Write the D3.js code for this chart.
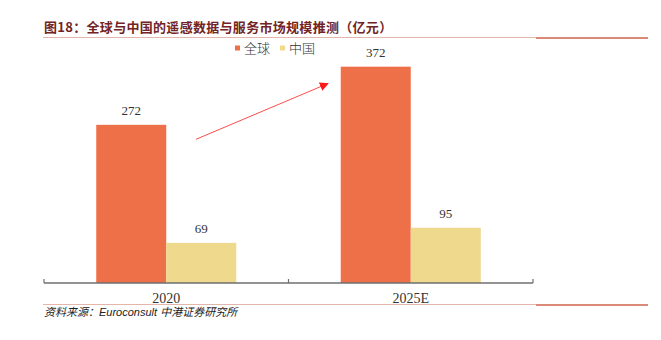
<!DOCTYPE html>
<html>
<head>
<meta charset="utf-8">
<script src="https://cdn.jsdelivr.net/npm/d3@7/dist/d3.min.js"></script>
<style>
  html, body { margin: 0; padding: 0; background: #fff; }
  svg { display: block; }
</style>
</head>
<body>
<svg id="chart" width="661" height="340"></svg>
<script>
// 全球与中国的遥感数据与服务市场规模（亿元）
const categories = ["2020", "2025E"];
const seriesNames = ["全球", "中国"];
const globalValues = [272, 372];
const chinaValues = [69, 95];
const titleText = "图18：全球与中国的遥感数据与服务市场规模推测（亿元）";
const sourceText = "资料来源：Euroconsult 中港证券研究所";

const colors = { "全球": "#ee7049", "中国": "#efd98d" };
const valuesBySeries = { "全球": globalValues, "中国": chinaValues };

const svg = d3.select("#chart");

// plot frame
const plot = { left: 44, right: 533, top: 50.4, bottom: 283 };

const x = d3.scaleBand().domain(categories).range([plot.left, plot.right]);
const xInner = d3.scaleBand().domain(seriesNames)
  .range([0, x.bandwidth()]).paddingInner(0).paddingOuter(0.746);
const y = d3.scaleLinear().domain([0, 400]).range([plot.bottom, plot.top]);

// title
svg.append("text")
  .attr("x", 44).attr("y", 32)
  .attr("font-family", "'Noto Sans CJK SC', sans-serif")
  .attr("font-size", 13).attr("font-weight", "bold")
  .attr("letter-spacing", 0.3)
  .attr("fill", "#722424")
  .text(titleText);

// header and footer rules
function rule(yPos) {
  svg.append("line").attr("x1", 43).attr("x2", 536).attr("y1", yPos).attr("y2", yPos)
    .attr("stroke", "#e3b6ab").attr("stroke-width", 1);
  svg.append("line").attr("x1", 536).attr("x2", 648).attr("y1", yPos + 0.5).attr("y2", yPos + 0.5)
    .attr("stroke", "#dc8a78").attr("stroke-width", 2);
}
rule(37.5);
rule(304.5);

// legend
const legend = svg.append("g").attr("transform", "translate(235,48)");
const legendPos = [0, 45];
seriesNames.forEach((name, i) => {
  const g = legend.append("g").attr("transform", `translate(${legendPos[i]},0)`);
  g.append("rect").attr("x", 0).attr("y", -2.5).attr("width", 5).attr("height", 5)
    .attr("fill", colors[name]);
  g.append("text").attr("x", 9).attr("y", 5)
    .attr("font-family", "'Noto Sans CJK SC', sans-serif")
    .attr("font-size", 13).attr("font-weight", 300)
    .attr("fill", "#333").text(name);
});

// bars
const groups = svg.append("g").selectAll("g")
  .data(categories).join("g")
  .attr("transform", d => `translate(${x(d)},0)`);

groups.each(function (cat, ci) {
  const g = d3.select(this);
  seriesNames.forEach(name => {
    const v = valuesBySeries[name][ci];
    g.append("rect")
      .attr("x", xInner(name))
      .attr("y", y(v))
      .attr("width", xInner.bandwidth())
      .attr("height", y(0) - y(v))
      .attr("fill", colors[name]);
    g.append("text")
      .attr("x", xInner(name) + xInner.bandwidth() / 2)
      .attr("y", y(v) - 10)
      .attr("text-anchor", "middle")
      .attr("font-family", "'Liberation Serif', serif")
      .attr("font-size", 13)
      .attr("fill", "#333")
      .text(v);
  });
});

// x axis with inward ticks at band edges
const axisG = svg.append("g").attr("transform", `translate(0,${plot.bottom})`);
axisG.append("line").attr("x1", plot.left).attr("x2", plot.right)
  .attr("stroke", "#6f6f6f").attr("stroke-width", 1.5);
const edges = categories.map(c => x(c)).concat([x.range()[1]]);
axisG.selectAll(".edge").data(edges).join("line")
  .attr("class", "edge")
  .attr("x1", d => d).attr("x2", d => d).attr("y1", 0).attr("y2", -4)
  .attr("stroke", "#6f6f6f").attr("stroke-width", 1.2);
axisG.selectAll(".cat").data(categories).join("text")
  .attr("class", "cat")
  .attr("x", d => x(d) + x.bandwidth() / 2)
  .attr("y", 19.5)
  .attr("text-anchor", "middle")
  .attr("font-family", "'Liberation Serif', serif")
  .attr("font-size", 14)
  .attr("fill", "#333")
  .text(d => d);

// growth arrow from 2020 toward 2025E
const defs = svg.append("defs");
defs.append("marker").attr("id", "arrowHead")
  .attr("viewBox", "0 0 10 10").attr("refX", 9).attr("refY", 5)
  .attr("markerWidth", 9).attr("markerHeight", 9)
  .attr("markerUnits", "userSpaceOnUse")
  .attr("orient", "auto")
  .append("path").attr("d", "M0,0 L10,5 L0,10 Z").attr("fill", "#ff1a1a");
svg.append("line")
  .attr("x1", 196).attr("y1", 139.3).attr("x2", 328).attr("y2", 83.5)
  .attr("stroke", "#ff4d4d").attr("stroke-width", 1)
  .attr("marker-end", "url(#arrowHead)");

// source note
svg.append("text")
  .attr("x", 44).attr("y", 316)
  .attr("font-family", "'Liberation Sans', 'Noto Sans CJK SC', sans-serif")
  .attr("font-size", 11).attr("font-style", "italic")
  .attr("fill", "#222")
  .text(sourceText);
</script>
</body>
</html>
